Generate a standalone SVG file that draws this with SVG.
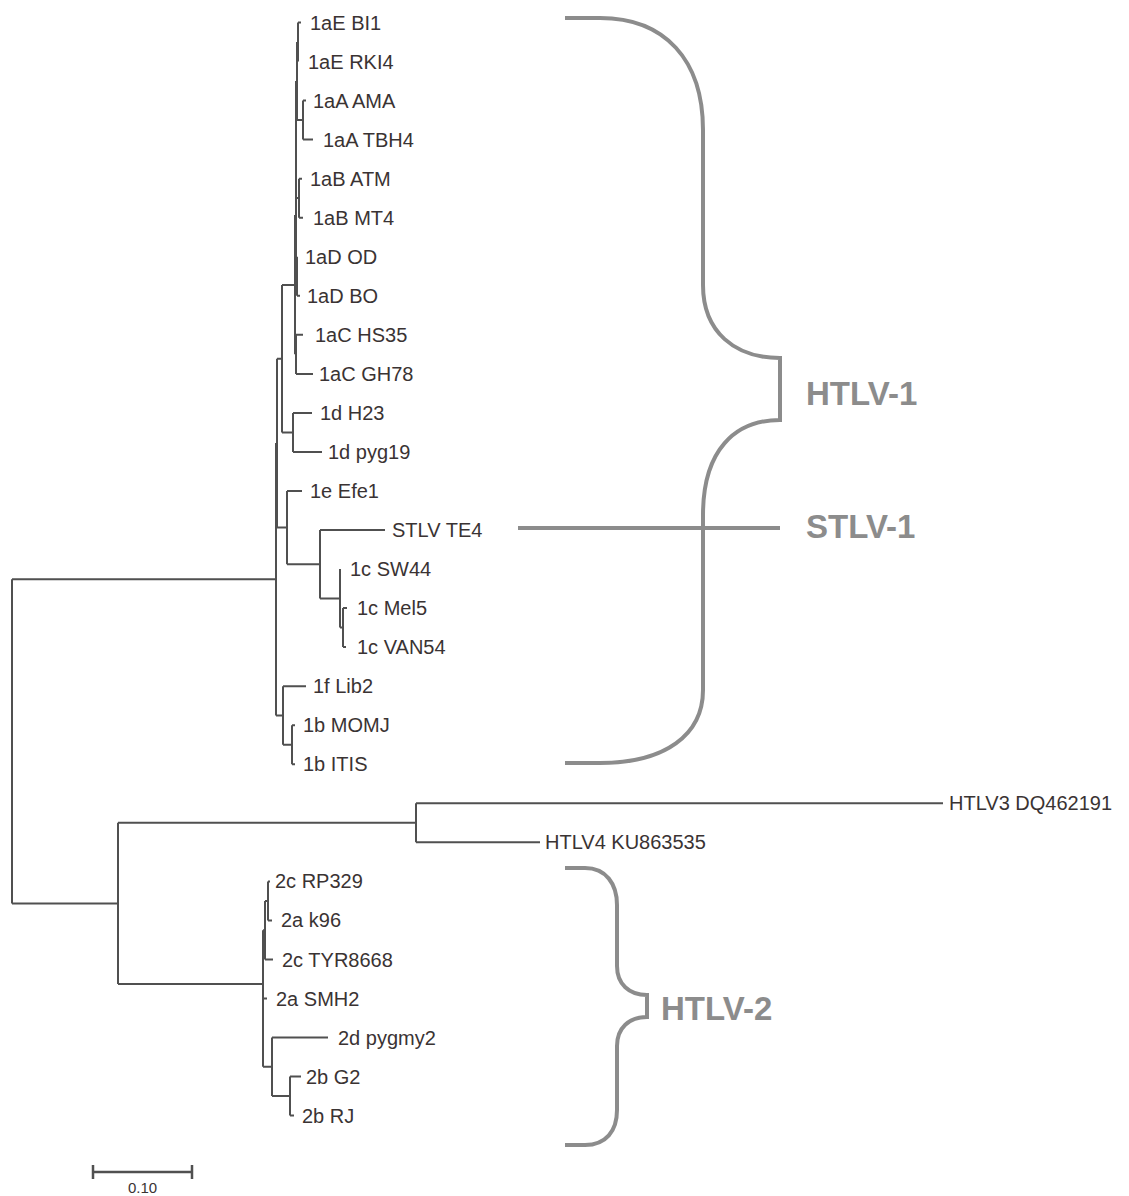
<svg xmlns="http://www.w3.org/2000/svg" width="1129" height="1196" viewBox="0 0 1129 1196">
<style>
.leaf{font-family:"Liberation Sans",Arial,sans-serif;font-size:20px;fill:#3a3333}
.clade{font-family:"Liberation Sans",Arial,sans-serif;font-size:33px;font-weight:bold;fill:#8c8c8c}
.br{fill:none;stroke:#505050;stroke-width:2}
.brace{fill:none;stroke:#8c8c8c;stroke-width:4}
</style>
<rect width="1129" height="1196" fill="#ffffff"/>
<g id="connectors">
<path class="br" d="M12,579.3V903.5M12,579.3H276M12,903.5H118M118,822.8V984M118,822.8H416M416,803.3V842.3M416,803.3H943M416,842.3H540M118,984H263
M263,930.2V1066.8M263,930.2H265M265,900.9V959.5M265,900.9H268M268,881.4V920.4M268,881.4H270M268,920.4H272M265,959.5H273M263,998.5H267M263,1066.8H272M272,1037.5V1096.1M272,1037.5H328M272,1096.1H290M290,1076.6V1115.6M290,1076.6H301M290,1115.6H294
M276,443V715.5M276,443H277M277,358.7V527.6M277,358.7H282M282,285V432.4M282,285H295M282,432.4H293M293,412.9V451.9M293,412.9H312M293,451.9H322
M295,215V354.3M295,215H296M295,354.3H296M296,334.8V373.9M296,334.8H303M296,373.9H313M296,81V276M296,81H297M296,198H299M296,276H297
M297,42V120M297,42H298M297,120H303M298,22.5V61.5M298,22.5H301M303,100.6V139.6M303,100.6H306M303,139.6H313M299,178.7V217.7M299,178.7H302M299,217.7H303M297,256.7V295.8M297,295.8H300
M277,527.6H287M287,491V564.3M287,491H302M287,564.3H320M320,530V598.6M320,530H385M320,598.6H340M340,569.1V627.6M340,627.6H343M343,608.1V647.1M343,608.1H347M343,647.1H346
M276,715.5H283M283,686.2V744.8M283,686.2H306M283,744.8H292M292,725.2V764.3M292,725.2H295M292,764.3H295"/>
</g>
<g id="leaves">
<g id="n-1aE-BI1"><text class="leaf" x="310" y="29.5">1aE BI1</text></g>
<g id="n-1aE-RKI4"><text class="leaf" x="308" y="68.5">1aE RKI4</text></g>
<g id="n-1aA-AMA"><text class="leaf" x="313" y="107.6">1aA AMA</text></g>
<g id="n-1aA-TBH4"><text class="leaf" x="323" y="146.6">1aA TBH4</text></g>
<g id="n-1aB-ATM"><text class="leaf" x="310" y="185.7">1aB ATM</text></g>
<g id="n-1aB-MT4"><text class="leaf" x="313" y="224.7">1aB MT4</text></g>
<g id="n-1aD-OD"><text class="leaf" x="305" y="263.7">1aD OD</text></g>
<g id="n-1aD-BO"><text class="leaf" x="307" y="302.8">1aD BO</text></g>
<g id="n-1aC-HS35"><text class="leaf" x="315" y="341.8">1aC HS35</text></g>
<g id="n-1aC-GH78"><text class="leaf" x="319" y="380.9">1aC GH78</text></g>
<g id="n-1d-H23"><text class="leaf" x="320" y="419.9">1d H23</text></g>
<g id="n-1d-pyg19"><text class="leaf" x="328" y="458.9">1d pyg19</text></g>
<g id="n-1e-Efe1"><text class="leaf" x="310" y="498">1e Efe1</text></g>
<g id="n-STLV-TE4"><text class="leaf" x="392" y="537">STLV TE4</text></g>
<g id="n-1c-SW44"><text class="leaf" x="350" y="576.1">1c SW44</text></g>
<g id="n-1c-Mel5"><text class="leaf" x="357" y="615.1">1c Mel5</text></g>
<g id="n-1c-VAN54"><text class="leaf" x="357" y="654.1">1c VAN54</text></g>
<g id="n-1f-Lib2"><text class="leaf" x="313" y="693.2">1f Lib2</text></g>
<g id="n-1b-MOMJ"><text class="leaf" x="303" y="732.2">1b MOMJ</text></g>
<g id="n-1b-ITIS"><text class="leaf" x="303" y="771.3">1b ITIS</text></g>
<g id="n-HTLV3"><text class="leaf" x="949" y="810.3">HTLV3 DQ462191</text></g>
<g id="n-HTLV4"><text class="leaf" x="545" y="849.3">HTLV4 KU863535</text></g>
<g id="n-2c-RP329"><text class="leaf" x="275" y="888.4">2c RP329</text></g>
<g id="n-2a-k96"><text class="leaf" x="281" y="927.4">2a k96</text></g>
<g id="n-2c-TYR8668"><text class="leaf" x="282" y="966.5">2c TYR8668</text></g>
<g id="n-2a-SMH2"><text class="leaf" x="276" y="1005.5">2a SMH2</text></g>
<g id="n-2d-pygmy2"><text class="leaf" x="338" y="1044.5">2d pygmy2</text></g>
<g id="n-2b-G2"><text class="leaf" x="306" y="1083.6">2b G2</text></g>
<g id="n-2b-RJ"><text class="leaf" x="302" y="1122.6">2b RJ</text></g>
</g>
<g id="brace-htlv1">
<path class="brace" d="M565,18 L600,18 C665,18 703,60 703,130 L703,285 C703,332 735,358 780,358 L780,420 C735,420 703,450 703,515 L703,690 C703,735 665,763 600,763 L565,763"/>
<text class="clade" x="806" y="405">HTLV-1</text>
</g>
<g id="stlv1">
<path class="brace" d="M518,528 H780"/>
<text class="clade" x="806" y="538">STLV-1</text>
</g>
<g id="brace-htlv2">
<path class="brace" d="M565,868 L585,868 C606,868 617,884 617,905 L617,966 C617,984 629,995 647,995 L647,1017 C629,1017 617,1028 617,1046 L617,1110 C617,1131 606,1145 585,1145 L565,1145"/>
<text class="clade" x="661" y="1020">HTLV-2</text>
</g>
<g id="scale">
<path class="br" style="stroke-width:2.5" d="M93,1172H192M93,1165V1179M192,1165V1179"/>
<text class="leaf" style="font-size:15px" x="142.5" y="1193" text-anchor="middle">0.10</text>
</g>
</svg>
